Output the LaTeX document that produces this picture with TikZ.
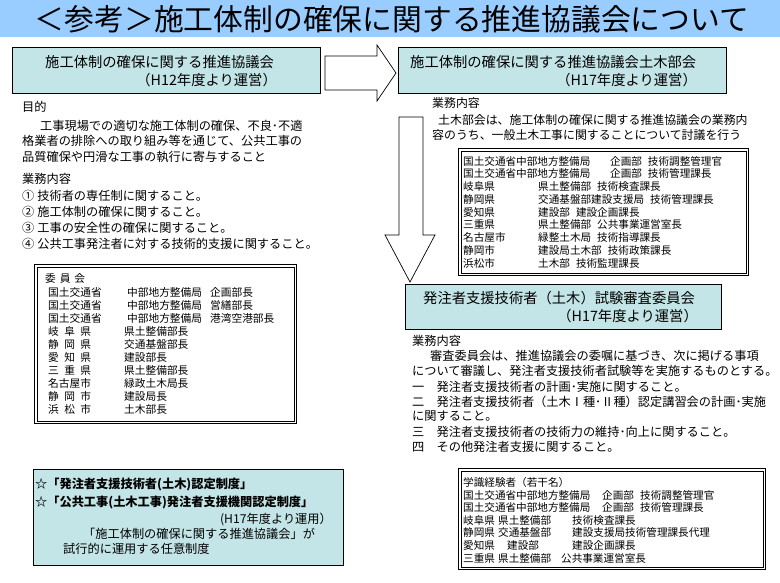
\documentclass[tikz,border=0pt]{standalone}
\usepackage{fontspec}
\setmainfont{Noto Sans CJK JP}
\definecolor{band}{RGB}{153,204,255}
\definecolor{boxteal}{RGB}{196,229,231}
\tikzset{
  tbox/.style={draw=black, line width=0.8pt, fill=boxteal, inner sep=0, anchor=north west},
  wbox/.style={draw=black, line width=1.4pt, fill=white, inner sep=0, anchor=north west},
  innerline/.style={line width=0.6pt},
  blockarrow/.style={draw=black, line width=0.7pt, fill=white, line join=miter},
  tx/.style={inner sep=0, anchor=west},
  txe/.style={inner sep=0, anchor=east},
  fbig/.style={font=\fontsize{14.3}{16}\selectfont},
  fmid/.style={font=\fontsize{12.2}{14}\selectfont},
  fbold/.style={font=\fontsize{12.2}{14}\selectfont\bfseries},
}
\begin{document}
\begin{tikzpicture}[x=1pt,y=-1pt]
\useasboundingbox (0,0) rectangle (780,583);
% title band
\fill[band] (0,0) rectangle (780,37);
\node[inner sep=0, font=\fontsize{29.8}{30}\selectfont] (title) at (392,19) {＜参考＞施工体制の確保に関する推進協議会について};

% boxes
\node[tbox, minimum width=308pt, minimum height=46pt] (boxA) at (12,47) {};
\node[tbox, minimum width=328pt, minimum height=46pt] (boxB) at (398,47) {};
\node[tbox, minimum width=316pt, minimum height=45pt] (boxC) at (405,284) {};
\node[tbox, minimum width=310pt, minimum height=96pt] (boxD) at (33,469) {};
\node[wbox, minimum width=262pt, minimum height=159pt] (memL) at (34,264) {};
\node[wbox, minimum width=290pt, minimum height=127pt] (memR) at (458,148) {};
\node[wbox, minimum width=307pt, minimum height=101pt] (memB) at (458,468) {};
\foreach \b in {memL,memR,memB}{
  \draw[innerline] ([xshift=3pt,yshift=-3pt]\b.north west) rectangle ([xshift=-3pt,yshift=3pt]\b.south east);
}

% block arrows
\draw[blockarrow] (325,56) -- (377,56) -- (377,45) -- (396,73) -- (377,101) -- (377,90) -- (325,90) -- cycle;
\draw[blockarrow] (399,117) -- (423,117) -- (423,235) -- (435,235) -- (410,282) -- (385,235) -- (399,235) -- cycle;

% box texts
\node[tx, fbig] (a1) at (45,62) {施工体制の確保に関する推進協議会};
\node[txe, fbig] (a2) at (277,80) {（H12年度より運営）};
\node[tx, fbig] (b1) at (410,62) {施工体制の確保に関する推進協議会土木部会};
\node[txe, fbig] (b2) at (697,80) {（H17年度より運営）};
\node[tx, fbig] (c1) at (423,298) {発注者支援技術者（土木）試験審査委員会};
\node[txe, fbig] (c2) at (698,316) {（H17年度より運営）};

% left text block
\node[tx, fmid] (l1) at (22,107) {目的};
\node[tx, fmid] (l2) at (40,126) {工事現場での適切な施工体制の確保、不良･不適};
\node[tx, fmid] (l3) at (22,141) {格業者の排除への取り組み等を通じて、公共工事の};
\node[tx, fmid] (l4) at (22,156.5) {品質確保や円滑な工事の執行に寄与すること};
\node[tx, fmid] (l5) at (22,178.5) {業務内容};
\node[tx, fmid] (l6) at (22,196) {①\hspace{3pt}技術者の専任制に関すること。};
\node[tx, fmid] (l7) at (22,212) {②\hspace{3pt}施工体制の確保に関すること。};
\node[tx, fmid] (l8) at (22,228) {③\hspace{3pt}工事の安全性の確保に関すること。};
\node[tx, fmid] (l9) at (22,244) {④\hspace{3pt}公共工事発注者に対する技術的支援に関すること。};

% left committee box
\begin{scope}[every node/.style={tx, font=\fontsize{10.7}{12}\selectfont}]
\node (m0) at (45,278) {\makebox[40pt][s]{委\hfill 員\hfill 会}};
\node (m1) at (48,292) {\makebox[79pt][l]{国土交通省}\makebox[83pt][l]{中部地方整備局}企画部長};
\node (m2) at (48,305) {\makebox[79pt][l]{国土交通省}\makebox[83pt][l]{中部地方整備局}営繕部長};
\node (m3) at (48,318) {\makebox[79pt][l]{国土交通省}\makebox[83pt][l]{中部地方整備局}港湾空港部長};
\node (m4) at (48,331) {\makebox[76pt][l]{\makebox[4em][s]{岐\hfill 阜\hfill 県}}県土整備部長};
\node (m5) at (48,344) {\makebox[76pt][l]{\makebox[4em][s]{静\hfill 岡\hfill 県}}交通基盤部長};
\node (m6) at (48,357) {\makebox[76pt][l]{\makebox[4em][s]{愛\hfill 知\hfill 県}}建設部長};
\node (m7) at (48,370) {\makebox[76pt][l]{\makebox[4em][s]{三\hfill 重\hfill 県}}県土整備部長};
\node (m8) at (48,383) {\makebox[76pt][l]{\makebox[4em][s]{名\hfill 古\hfill 屋\hfill 市}}緑政土木局長};
\node (m9) at (48,396) {\makebox[76pt][l]{\makebox[4em][s]{静\hfill 岡\hfill 市}}建設局長};
\node (m10) at (48,409) {\makebox[76pt][l]{\makebox[4em][s]{浜\hfill 松\hfill 市}}土木部長};
\end{scope}

% lower left star box
\node[tx, fbold] (s1) at (35,485) {☆「発注者支援技術者(土木)認定制度」};
\node[tx, fbold] (s2) at (35,503) {☆「公共工事(土木工事)発注者支援機関認定制度」};
\node[txe, fmid] (s3) at (332,519) {(H17年度より運用）};
\node[tx, fmid] (s4) at (83,534) {「施工体制の確保に関する推進協議会」が};
\node[tx, fmid] (s5) at (63,549) {試行的に運用する任意制度};

% right upper text
\begin{scope}[every node/.style={tx, font=\fontsize{11.9}{14}\selectfont}]
\node (r1) at (432,103) {業務内容};
\node (r2) at (438,120) {土木部会は、施工体制の確保に関する推進協議会の業務内};
\node (r3) at (432,135) {容のうち、一般土木工事に関することについて討議を行う};
\end{scope}

% right members box
\begin{scope}[every node/.style={tx, font=\fontsize{10.6}{12}\selectfont}]
\node (k1) at (463,161) {\makebox[147pt][l]{国土交通省中部地方整備局}企画部\hspace{6pt}技術調整管理官};
\node (k2) at (463,173.75) {\makebox[147pt][l]{国土交通省中部地方整備局}企画部\hspace{6pt}技術管理課長};
\node (k3) at (463,186.5) {\makebox[75pt][l]{岐阜県}県土整備部\hspace{6pt}技術検査課長};
\node (k4) at (463,199.25) {\makebox[75pt][l]{静岡県}交通基盤部建設支援局\hspace{6pt}技術管理課長};
\node (k5) at (463,212) {\makebox[75pt][l]{愛知県}建設部\hspace{6pt}建設企画課長};
\node (k6) at (463,224.75) {\makebox[75pt][l]{三重県}県土整備部\hspace{6pt}公共事業運営室長};
\node (k7) at (463,237.5) {\makebox[75pt][l]{名古屋市}緑整土木局\hspace{6pt}技術指導課長};
\node (k8) at (463,250.25) {\makebox[75pt][l]{静岡市}建設局土木部\hspace{6pt}技術政策課長};
\node (k9) at (463,263) {\makebox[75pt][l]{浜松市}土木部\hspace{6pt}技術監理課長};
\end{scope}

% right lower text
\begin{scope}[every node/.style={tx, font=\fontsize{12.2}{14}\selectfont}]
\node (q1) at (412,341) {業務内容};
\node (q2) at (430,356) {審査委員会は、推進協議会の委嘱に基づき、次に掲げる事項};
\node (q3) at (412,371) {について審議し、発注者支援技術者試験等を実施するものとする。};
\node (q4) at (412,386.5) {一　発注者支援技術者の計画･実施に関すること。};
\node (q5) at (412,401.5) {二　発注者支援技術者（土木Ⅰ種･Ⅱ種）認定講習会の計画･実施};
\node (q6) at (412,416.5) {に関すること。};
\node (q7) at (412,432) {三　発注者支援技術者の技術力の維持･向上に関すること。};
\node (q8) at (412,447) {四　その他発注者支援に関すること。};
\end{scope}

% right bottom box
\begin{scope}[every node/.style={tx, font=\fontsize{10.6}{12}\selectfont}]
\node (g1) at (463,482.5) {学識経験者（若干名）};
\node (g2) at (463,495.1) {\makebox[139pt][l]{国土交通省中部地方整備局}\makebox[38pt][l]{企画部}技術調整管理官};
\node (g3) at (463,507.7) {\makebox[139pt][l]{国土交通省中部地方整備局}\makebox[38pt][l]{企画部}技術管理課長};
\node (g4) at (463,520.3) {\makebox[35pt][l]{岐阜県}\makebox[74pt][l]{県土整備部}技術検査課長};
\node (g5) at (463,532.9) {\makebox[35pt][l]{静岡県}\makebox[74pt][l]{交通基盤部}建設支援局技術管理課長代理};
\node (g6) at (463,545.5) {\makebox[44pt][l]{愛知県}\makebox[65pt][l]{建設部}建設企画課長};
\node (g7) at (463,558.1) {\makebox[35pt][l]{三重県}\makebox[63pt][l]{県土整備部}公共事業運営室長};
\end{scope}
\end{tikzpicture}
\end{document}
